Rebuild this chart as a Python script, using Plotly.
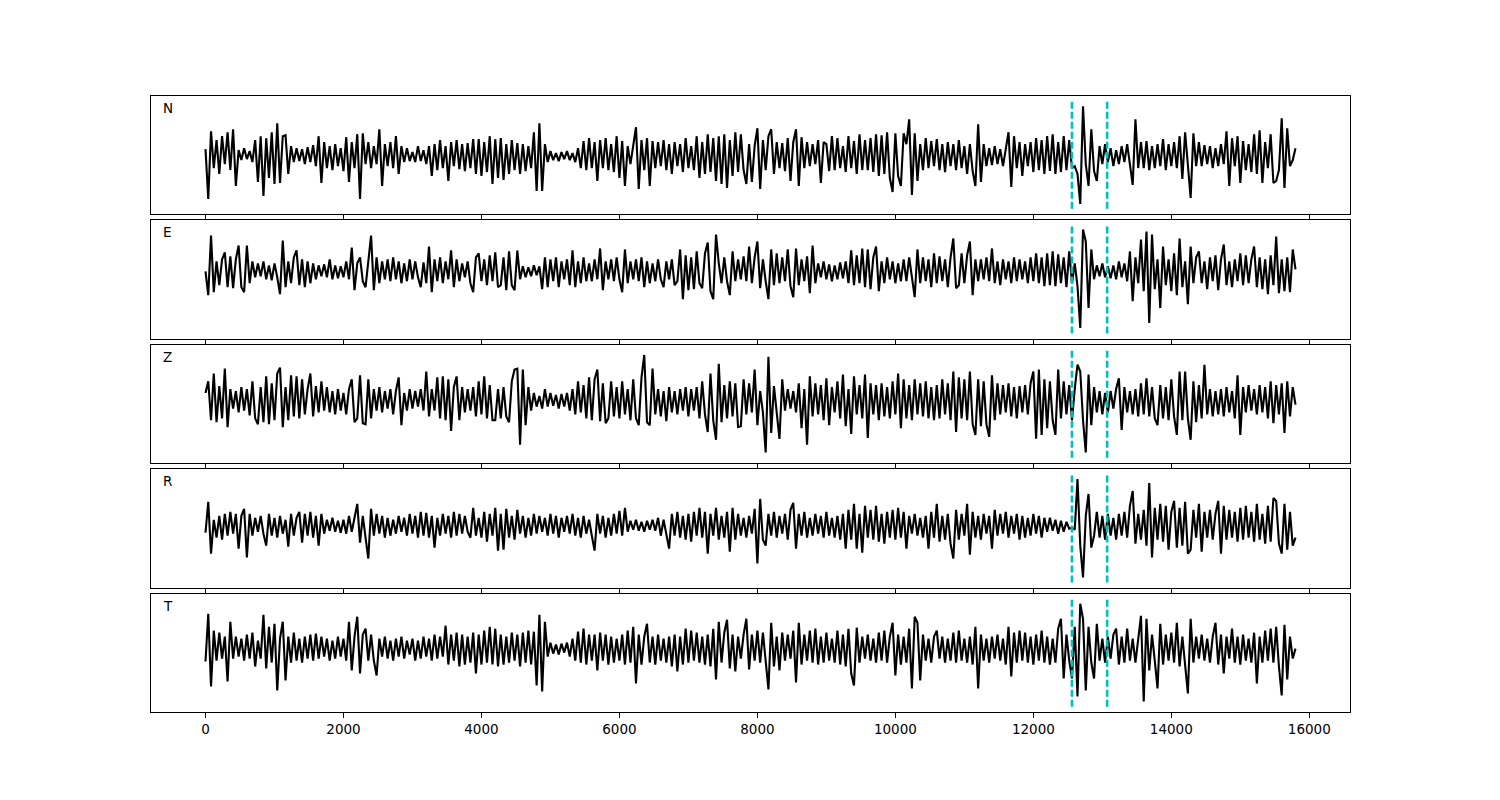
import numpy as np
import plotly.graph_objects as go

STEP = 40
# picked phase markers (samples)
MARKERS = [12560, 13070]
CHANNELS = ["N", "E", "Z", "R", "T"]
XTICKS = [0, 2000, 4000, 6000, 8000, 10000, 12000, 14000, 16000]

trace_N = [
    7,-43,25,-12,16,-18,20,-8,24,-14,27,-30,6,-4,8,-3,5,-6,16,-26,
    20,-40,18,-22,24,-28,33,-27,20,21,-18,10,-6,8,-5,7,-8,9,-6,11,
    -10,20,-27,14,-12,10,-14,12,-10,8,-15,19,-26,14,-12,22,-43,23,-8,14,
    -12,10,-8,27,-30,12,-10,14,-12,20,-18,10,-6,8,-5,4,-6,10,-5,6,
    -8,10,-20,12,-14,16,-12,10,-25,14,-10,16,-13,12,-15,13,-12,17,-18,17,
    -20,14,-16,20,-28,17,-22,18,-24,12,-18,16,-14,13,-18,12,-15,10,-12,24,
    -35,33,-35,12,-6,5,-4,3,-5,4,-3,5,-4,3,-6,8,-12,15,-14,18,
    -12,14,-25,16,-12,18,-14,12,-16,20,-22,15,-30,10,-8,12,29,-33,16,-14,
    18,-30,15,-12,14,-10,16,-14,12,-18,14,-10,12,-16,18,-12,10,-14,20,-22,
    14,-18,22,-16,18,-25,20,-28,22,-32,16,-20,24,-16,22,-14,-28,12,-26,10,
    28,-33,16,-14,20,27,-18,14,-12,13,-15,18,-25,14,27,-30,19,-12,14,-10,
    12,-8,16,-27,14,12,-15,20,-14,18,-12,10,-16,20,-12,15,-18,22,-14,16,
    -14,18,-16,22,-20,21,-18,24,-22,-36,23,-20,-30,23,12,37,-39,23,-25,12,
    -14,18,-12,15,-10,17,-14,12,-16,14,-10,12,-14,16,-12,10,-18,12,-15,-30,
    32,-26,12,-10,8,-9,10,-8,7,-10,9,24,-31,20,-12,14,-20,12,-10,14,
    -16,18,-14,16,-18,20,-15,22,-18,14,-16,20,-14,16,-12,-10,-18,-48,50,-8,
    -30,27,-15,-25,10,-8,12,-6,8,-10,6,-8,10,-6,12,-8,-29,37,-12,14,
    -12,15,-14,10,-12,12,-10,17,-14,12,-10,14,-12,20,-23,24,-12,-42,23,-10,
    14,-10,11,-8,10,-12,8,-10,12,-8,25,-30,18,-10,20,-27,15,-14,12,-16,
    22,-18,26,-27,14,-12,22,-27,-25,-14,38,-32,28,-10,-4,8,
]

trace_E = [
    0,-24,36,-21,10,-14,12,19,-16,15,-17,12,26,-16,-21,26,-12,10,-6,8,
    -5,10,-8,6,-9,8,-6,-23,31,-16,10,-12,14,21,-14,12,-16,10,-12,8,
    -8,6,-5,7,-6,12,-8,6,-7,5,-6,10,-8,24,-19,8,14,-10,-16,8,
    36,-19,14,-12,10,-8,12,-10,14,-8,10,-12,8,-10,12,-8,10,-6,-16,9,
    -12,25,-21,12,-10,14,-12,10,-8,21,-16,12,-10,8,-6,10,-12,-21,14,18,
    -10,12,-14,16,-10,19,-16,-14,14,-19,20,-14,-19,21,-8,5,-6,4,-5,6,
    -4,5,-18,14,-16,12,-10,14,-16,10,-8,12,-14,21,-16,10,-12,14,-10,8,
    -10,12,-8,23,-19,10,-8,12,-10,14,-8,-21,22,-12,10,-8,12,-10,14,-16,
    10,-12,8,-10,12,-8,-16,10,-8,12,-14,-10,22,-28,16,-19,14,-18,20,-12,
    -17,18,29,-20,-28,37,8,-12,14,-10,-24,20,-10,12,-8,15,-10,25,-12,14,
    30,-17,12,-10,-28,22,-14,18,-12,14,-10,22,-15,-26,23,-14,12,-10,15,-22,
    26,-12,8,-6,10,-8,7,-10,6,-8,9,-7,10,-12,21,-14,16,-12,23,-16,
    22,-18,14,25,-20,10,-12,14,-8,10,-12,8,-10,12,-10,14,-8,-26,22,-12,
    14,-10,12,-16,18,-12,15,-10,12,-16,14,33,-17,-14,18,-12,16,30,-24,12,
    -10,12,-8,14,-10,23,-12,10,-14,12,-8,10,-12,14,-10,12,-8,10,-12,14,
    -10,18,-12,14,-15,18,-14,20,-15,17,-12,14,-16,20,-12,8,-15,-57,42,30,
    -37,22,-8,6,-5,8,-6,5,-7,6,-8,10,-6,8,-10,20,-30,14,-12,32,
    -20,40,-52,37,-18,12,-37,25,-14,12,-20,18,-24,33,-16,10,-33,25,-12,14,
    20,-12,10,-18,14,-10,16,-19,12,27,-14,10,-16,12,-10,18,-14,16,-12,12,
    25,-16,14,-18,12,-23,16,-14,35,-22,12,-20,14,-21,22,2,
]

trace_Z = [
    8,20,-20,28,-22,15,-18,33,-27,12,-8,10,-12,14,-10,12,-15,20,-18,-24,
    14,-22,25,-24,18,-20,28,34,-27,14,-20,26,-16,25,-18,22,-14,12,28,-16,
    15,-12,20,-10,14,-12,10,-14,12,-10,8,-14,12,22,-22,-18,26,-23,-24,22,
    -18,12,-10,14,-12,10,-8,12,-14,10,24,-25,8,-10,12,-8,10,-6,12,-10,
    30,-16,12,-10,24,-18,25,-20,22,-31,14,25,-20,14,-12,12,-10,14,-16,20,
    -14,25,-18,16,-20,-20,12,-18,14,-16,-22,20,32,33,-45,32,-25,14,-10,8,
    -6,5,-8,12,-6,8,-5,6,-8,7,-6,8,-10,12,-14,20,-12,16,-18,24,
    -20,22,32,-21,18,-23,-18,20,-16,14,-18,20,-14,12,-20,22,-18,-25,24,47,
    -22,-25,33,-14,12,-16,10,-21,14,-12,10,-14,12,-10,14,-16,12,-10,14,-18,
    20,-14,-32,28,-20,-40,38,-22,16,-18,20,-16,18,-27,-26,22,-14,18,-12,32,
    -25,10,-12,-53,45,-33,15,-15,-39,22,-10,12,-8,10,-12,18,-28,12,-45,25,
    -16,18,-14,16,-20,23,-25,14,-12,20,-18,27,-26,12,-34,25,-14,16,-18,27,
    -38,18,-14,16,-20,18,-16,14,-18,20,-14,28,-28,22,-18,16,-20,22,-14,18,
    -16,20,-18,14,-20,16,-18,22,-14,18,-20,30,-32,24,-18,22,-20,30,-24,-35,
    22,-26,20,-24,-37,26,-20,18,-14,16,-12,18,-16,14,-18,15,-12,16,-14,18,
    30,-39,32,-35,22,-28,20,-20,-35,32,-18,20,-14,16,-20,12,37,30,-20,-53,
    27,-25,14,-12,10,-14,8,-12,10,-8,12,23,-30,14,-12,10,-14,12,-16,18,
    -14,23,-16,14,-18,-25,16,-18,14,-20,22,-16,-35,30,-20,30,-18,-40,20,-22,
    16,-18,37,-14,12,-16,10,-14,12,-16,14,-12,10,-18,26,-35,14,-12,16,-10,
    12,-14,16,-12,14,-18,20,-23,16,-14,18,-33,20,-16,14,-4,
]

trace_R = [
    -7,24,-28,6,-12,10,-14,12,-10,14,-8,12,-23,10,17,-32,12,-10,8,-6,
    10,-8,-20,12,-10,8,-12,10,-8,6,-21,12,-10,8,14,-17,12,-10,14,-12,
    10,-20,12,-8,6,-5,8,-6,5,-7,6,-8,10,-6,8,22,-17,10,-12,-33,
    17,-10,12,-8,10,-12,8,-10,6,-8,10,-6,8,-10,12,-8,10,-12,14,-10,
    13,-12,10,-22,8,-10,12,-8,10,-12,14,-10,12,-8,10,-6,-12,18,-10,8,
    -12,14,-16,12,-10,18,-25,12,-24,17,-12,10,-14,16,-8,10,-12,8,-10,12,
    -8,10,-6,8,-10,12,-8,10,-12,8,-6,10,-8,12,-10,8,-12,10,-8,6,
    -10,-25,12,-8,10,-12,8,-10,12,-8,15,-10,18,-6,5,-4,6,-5,4,-6,
    5,-4,6,-5,8,-10,6,-8,-23,12,-10,14,-12,10,-14,12,-16,14,-10,18,
    -12,14,-28,12,-10,18,-14,10,-12,14,-26,18,-14,12,-10,8,-12,10,-8,17,
    -38,27,-14,-20,12,-10,14,-12,10,-8,12,-14,16,23,-23,12,-10,14,-12,8,
    -10,12,-8,10,-12,14,-10,8,-12,10,-14,12,-23,16,-14,22,-23,12,-27,20,
    -12,16,-14,20,-16,12,-18,14,-12,16,-14,18,-12,14,-23,10,-8,12,-10,8,
    -12,10,-23,14,-12,22,-16,10,-14,12,-18,-33,16,-14,12,-10,22,-29,14,-12,
    10,-14,12,-8,10,-23,16,-10,12,-8,14,-12,10,-8,12,-14,10,-12,8,-10,
    12,-8,10,-12,8,-6,8,-5,6,-8,5,-6,4,-3,-2,-4,47,-20,-52,10,
    32,-22,-10,14,-12,10,-14,12,-10,8,-14,12,-10,14,-12,20,35,-18,12,-14,
    16,-20,43,-32,18,-14,22,-16,20,-24,14,25,-22,18,-20,24,-28,-24,16,-12,
    22,-26,14,-12,16,-14,12,25,-28,20,-14,16,-12,14,-16,18,-14,20,-12,14,
    -16,22,-14,12,-18,20,-16,28,25,-18,-28,22,-24,14,-20,-12,
]

trace_T = [
    -13,35,-38,18,-12,16,-10,12,-33,27,-10,12,-8,10,-12,14,-10,16,-18,8,
    -10,34,-20,22,-14,25,-42,10,27,-32,12,-14,16,-12,10,-14,12,-10,14,-12,
    15,-10,12,-8,10,-12,8,-10,12,-8,10,-12,27,-22,12,32,-25,14,20,-12,
    14,-12,-27,10,-8,12,-10,8,-12,10,-8,12,-10,8,-6,10,-12,8,-10,12,
    -8,10,-12,14,-10,12,-8,23,-16,14,-12,16,-18,14,-16,12,-14,16,-25,14,
    -16,18,-14,22,-16,20,-18,14,-16,12,-14,16,-12,14,-18,16,-14,18,-16,17,
    -37,34,-43,27,-8,6,-5,4,-6,5,-4,6,-8,10,-12,17,-14,20,-16,14,
    -12,14,-22,16,-12,14,-16,12,-14,10,-12,14,-16,18,-14,22,-35,14,-16,12,
    25,-14,12,-16,14,-12,10,-14,12,-18,14,-23,12,-16,20,-14,18,-12,16,-14,
    12,-16,14,-18,20,-31,27,-14,16,29,-20,14,-23,12,-10,14,30,-21,14,-12,
    18,-14,16,-10,-41,26,-18,12,-22,16,-12,14,-10,18,-34,26,-16,14,-12,18,
    -14,20,-16,12,-14,16,-12,10,-14,18,-16,14,-18,20,-25,-37,21,-14,12,-10,
    14,-12,10,-14,16,-12,18,-14,12,26,-27,14,-16,12,-14,20,-40,32,26,-32,
    14,-12,10,-14,12,18,-10,12,-14,10,-12,16,-14,18,-12,10,-14,12,-16,22,
    -40,14,-12,10,-14,12,-10,14,-12,10,-16,22,-28,16,-14,18,-12,16,-14,12,
    -16,14,-12,18,-14,12,-16,10,-14,20,30,-30,14,-12,-30,22,-48,45,30,-42,
    22,-14,-30,25,-12,10,-14,12,-10,14,20,-16,12,-14,20,-12,10,-14,12,33,
    -53,30,-22,14,-12,-40,25,-16,14,-12,16,-14,26,-18,12,-16,-45,30,-14,12,
    -10,14,-12,10,-14,12,26,-16,14,-25,12,-10,20,-14,12,-16,14,-12,10,-14,
    16,-35,12,-14,18,-12,20,-14,22,-18,-47,24,-31,12,-10,0,
]

TRACES = [trace_N, trace_E, trace_Z, trace_R, trace_T]

# vertical domains of the five stacked panels (paper fraction)
DOMAINS = [
    [0.8084, 1.0],
    [0.6055, 0.7987],
    [0.4042, 0.5958],
    [0.2013, 0.3945],
    [0.0, 0.1916],
]

XRANGE = [-790, 16590]
FONT = "DejaVu Sans, Liberation Sans, sans-serif"

fig = go.Figure()
layout = dict(
    width=1500, height=800,
    margin=dict(l=143, r=158, t=88, b=96),
    paper_bgcolor="white", plot_bgcolor="white",
    showlegend=False,
    font=dict(family=FONT, size=13.5, color="black"),
)

annotations = []
for i, (name, vals) in enumerate(zip(CHANNELS, TRACES)):
    n = i + 1
    xa = "x" if n == 1 else f"x{n}"
    ya = "y" if n == 1 else f"y{n}"
    x = np.arange(len(vals)) * STEP
    y = np.array(vals, dtype=float)
    fig.add_trace(go.Scatter(x=x, y=y, mode="lines",
                             line=dict(color="black", width=2.1),
                             xaxis=xa, yaxis=ya, hoverinfo="skip"))
    lo, hi = 1.1 * y.min(), 1.1 * y.max()
    for xm in MARKERS:
        fig.add_trace(go.Scatter(x=[xm, xm], y=[lo, hi], mode="lines",
                                 line=dict(color="#00bfbf", width=2.6, dash="7px,3px"),
                                 xaxis=xa, yaxis=ya, hoverinfo="skip"))
    pad = 0.05 * (hi - lo)
    key_x = "xaxis" if n == 1 else f"xaxis{n}"
    key_y = "yaxis" if n == 1 else f"yaxis{n}"
    layout[key_x] = dict(
        domain=[0, 1], anchor=ya, range=XRANGE,
        tickmode="array", tickvals=XTICKS,
        ticktext=[str(t) for t in XTICKS],
        showticklabels=(n == 5),
        ticks="outside", ticklen=5, tickwidth=1, tickcolor="black",
        showline=True, mirror=True, linecolor="black", linewidth=1,
        showgrid=False, zeroline=False,
        tickfont=dict(family=FONT, size=13.5, color="black"),
    )
    layout[key_y] = dict(
        domain=DOMAINS[i], anchor=xa, range=[lo - pad, hi + pad],
        showticklabels=False, ticks="",
        showline=True, mirror=True, linecolor="black", linewidth=1,
        showgrid=False, zeroline=False,
    )
    annotations.append(dict(
        text=name, xref=f"{xa} domain", yref=f"{ya} domain",
        x=0.008, y=0.9, xanchor="left", yanchor="middle",
        showarrow=False, font=dict(family=FONT, size=13.5, color="black"),
    ))

layout["annotations"] = annotations
fig.update_layout(**layout)
fig.write_html("out.html")
